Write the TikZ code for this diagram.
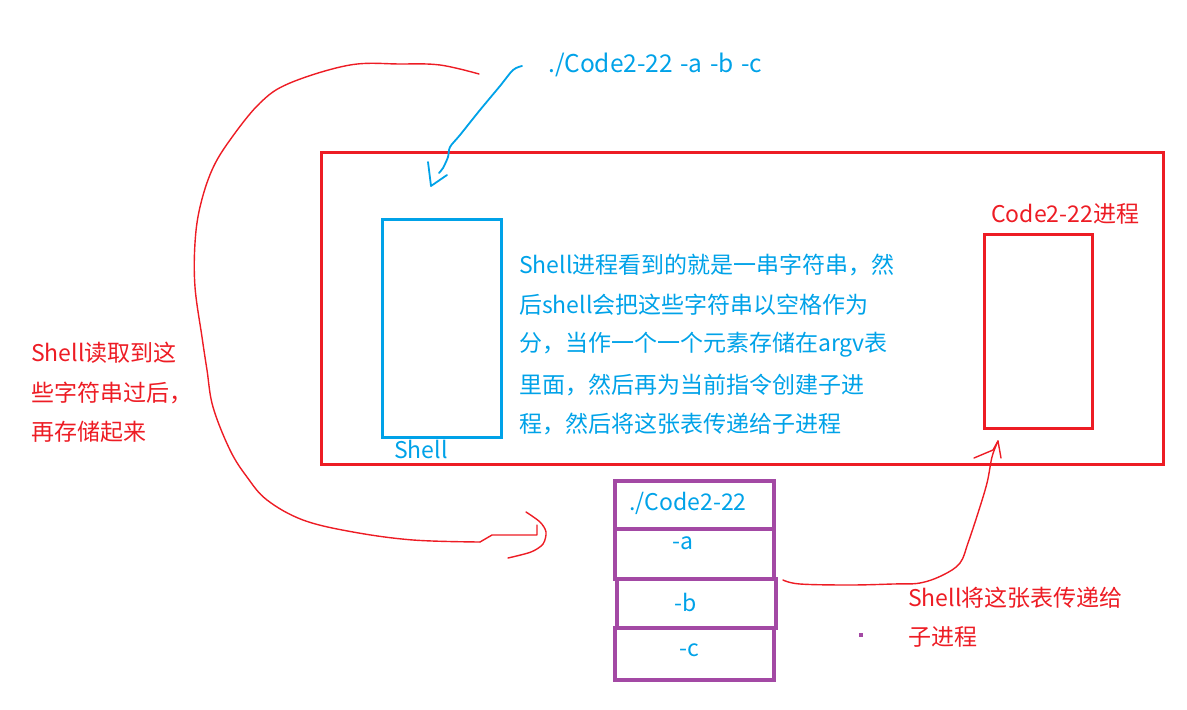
\documentclass[tikz,border=0pt]{standalone}
\usepackage{fontspec}
\setmainfont{Noto Sans CJK SC}
\definecolor{skyblue}{RGB}{0,162,232}
\definecolor{pred}{RGB}{237,28,36}
\definecolor{ppurple}{RGB}{163,73,164}
\begin{document}
\begin{tikzpicture}[x=1pt,y=-1pt,
  txt/.style={font=\fontsize{23}{28}\selectfont, inner sep=0pt, anchor=west},
  btxt/.style={txt, text=skyblue},
  rtxt/.style={txt, text=pred},
  frame/.style={draw=pred, line width=3pt, inner sep=0pt},
  bluebox/.style={draw=skyblue, line width=3pt, inner sep=0pt},
  cell/.style={draw=ppurple, line width=3.5pt, inner sep=0pt},
  handred/.style={draw=pred, line width=1.4pt, line cap=round, line join=round},
  handblue/.style={draw=skyblue, line width=1.8pt, line cap=round, line join=round}]
\useasboundingbox (0,0) rectangle (1187,710);

% main frame
\node[frame, minimum width=842pt, minimum height=312pt, anchor=north west] (frame) at (320,151) {};
% shell box
\node[bluebox, minimum width=119pt, minimum height=218pt, anchor=north west] (shellbox) at (381,218) {};
\node[btxt] (shelllbl) at (394,449) {Shell};
% child process box
\node[frame, minimum width=108pt, minimum height=194pt, anchor=north west] (child) at (983,233) {};
\node[rtxt] (childlbl) at (991,214) {Code2-22进程};

% command line
\node[btxt, font=\fontsize{24.5}{28}\selectfont, text width=214pt, align=justify] (cmd) at (548,65) {./Code2-22\hfill-a\hfill-b\hfill-c};

% paragraph
\node[btxt] (p1) at (519,265) {Shell进程看到的就是一串字符串，然};
\node[btxt] (p2) at (519,305) {后shell会把这些字符串以空格作为};
\node[btxt] (p3) at (519,345) {分，当作一个一个元素存储在argv表};
\node[btxt] (p4) at (519,385) {里面，然后再为当前指令创建子进};
\node[btxt] (p5) at (519,424) {程，然后将这张表传递给子进程};

% left note
\node[rtxt] (l1) at (31,353) {Shell读取到这};
\node[rtxt] (l2) at (31,393) {些字符串过后，};
\node[rtxt] (l3) at (31,432) {再存储起来};

% right note
\node[rtxt] (r1) at (908,598) {Shell将这张表传递给};
\node[rtxt] (r2) at (908,637) {子进程};

% argv table
\node[cell, minimum width=159pt, minimum height=48pt, anchor=north west] (argv0) at (613,479) {};
\node[cell, minimum width=159pt, minimum height=50pt, anchor=north west] (argv1) at (613,527) {};
\node[cell, minimum width=159pt, minimum height=49pt, anchor=north west] (argv2) at (615,577) {};
\node[cell, minimum width=159pt, minimum height=52pt, anchor=north west] (argv3) at (613,626) {};
\node[btxt, anchor=center] (a0) at (688,503) {./Code2-22};
\node[btxt, anchor=center] (a1) at (683,543) {-a};
\node[btxt, anchor=center] (a2) at (686,602) {-b};
\node[btxt, anchor=center] (a3) at (689,650) {-c};

% purple dot
\node[fill=ppurple, minimum size=4pt, inner sep=0pt] (dot) at (861,635) {};

% blue arrow from command to shell
\coordinate (bs) at (522,66);
\coordinate (be) at (439,173);
\draw[handblue] plot[smooth] coordinates {(bs) (513,70) (500,86) (480,110) (460,135) (450,147) (448,157) (443,168) (be)};
\draw[handblue] (428,162) -- (431,186) -- (447,175);

% red curve: shell stores the strings into argv
\coordinate (ls) at (479,74);
\coordinate (le) at (537,525);
\draw[handred] plot[smooth, tension=0.6] coordinates {(ls) (440,65) (400,64) (350,65) (290,83) (260,103) (230,140) (212,170) (200,207) (195,243) (195,287) (202,337) (207,370) (213,407) (230,450) (247,477) (267,500) (303,520) (353,532) (413,540) (480,542)};
\draw[handred] (480,542) -- (492,535) -- (537,535) -- (le);
\draw[handred] plot[smooth] coordinates {(526,512) (540,522) (546,532) (543,544) (531,552) (508,558)};

% red curve: shell passes table to child
\coordinate (rs) at (783,580);
\coordinate (re) at (998,441);
\draw[handred] plot[smooth, tension=0.6] coordinates {(rs) (800,584) (850,585) (893,584) (920,583) (943,575) (960,563) (968,543) (978,513) (987,483) (992,457) (re)};
\draw[handred] (974,458) -- (993,450) -- (re) -- (1001,458);
\end{tikzpicture}
\end{document}
